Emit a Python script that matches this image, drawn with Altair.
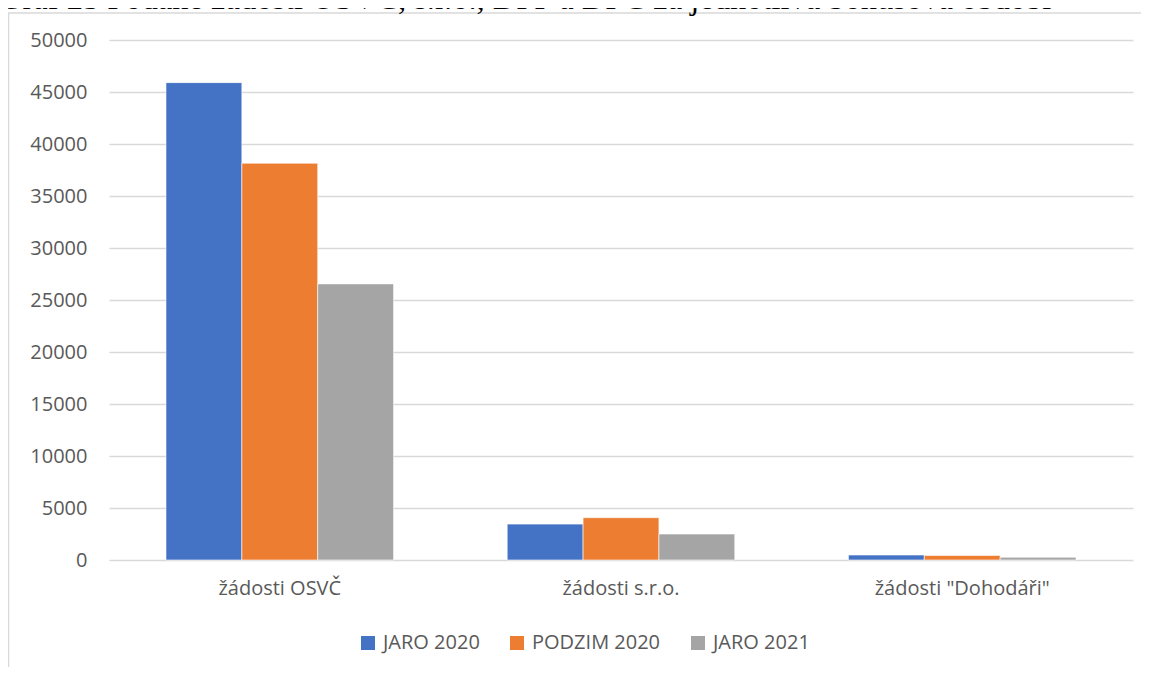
import altair as alt
import pandas as pd

categories = ["žádosti OSVČ", "žádosti s.r.o.", "žádosti \"Dohodáři\""]
periods = ["JARO 2020", "PODZIM 2020", "JARO 2021"]
jaro_2020 = [45900, 3450, 480]
podzim_2020 = [38150, 4070, 430]
jaro_2021 = [26550, 2500, 260]
colors = ["#4472C4", "#ED7D31", "#A5A5A5"]
title_text = "Graf 25 Podané žádosti OSVČ, s.r.o., DPP a DPČ za jednotlivá bonusová období"

rows = []
for series, vals in zip(periods, [jaro_2020, podzim_2020, jaro_2021]):
    for c, v in zip(categories, vals):
        rows.append({"kategorie": c, "obdobi": series, "hodnota": v})
df = pd.DataFrame(rows)

FONT = "Open Sans"
LABEL = "#595959"
FS = 20

bars = alt.Chart(df).mark_bar(stroke="white", strokeWidth=0.6).encode(
    x=alt.X("kategorie:N", sort=categories, title=None,
            scale=alt.Scale(paddingInner=0.333, paddingOuter=0.167),
            axis=alt.Axis(labelAngle=0, labelFont=FONT, labelFontSize=FS,
                          labelColor=LABEL, labelPadding=18, ticks=False,
                          domain=False, grid=False)),
    xOffset=alt.XOffset("obdobi:N", sort=periods, scale=alt.Scale(paddingInner=0, paddingOuter=0)),
    y=alt.Y("hodnota:Q", title=None,
            scale=alt.Scale(domain=[0, 50000]),
            axis=alt.Axis(values=list(range(0, 50001, 5000)), labelFont=FONT,
                          labelFontSize=FS, labelColor=LABEL, labelPadding=22,
                          ticks=False, domain=False, gridColor="#D9D9D9",
                          gridWidth=1.3, format="d")),
    color=alt.Color("obdobi:N", sort=periods,
                    scale=alt.Scale(domain=periods, range=colors),
                    legend=alt.Legend(title=None, orient="none", direction="horizontal",
                                      legendX=249, legendY=593,
                                      symbolType="square", symbolSize=196,
                                      symbolStrokeWidth=0, labelFont=FONT,
                                      labelFontSize=FS, labelColor=LABEL,
                                      labelOffset=5, columnPadding=27)),
)

one = pd.DataFrame({"a": [0]})
frame_top = alt.Chart(one).mark_rule(stroke="#D9D9D9", strokeWidth=1.5).encode(
    x=alt.value(-101), x2=alt.value(1040), y=alt.value(-27)
)
frame_left = alt.Chart(one).mark_rule(stroke="#D9D9D9", strokeWidth=1.5).encode(
    x=alt.value(-100.5), y=alt.value(-27), y2=alt.value(640)
)
title = alt.Chart(one).mark_text(align="left", baseline="alphabetic",
                                 font="Liberation Serif", fontSize=32.5,
                                 color="#000000").encode(
    x=alt.value(-110), y=alt.value(-31.5), text=alt.value(title_text)
)

chart = alt.layer(frame_top, frame_left, bars, title).properties(
    width=1024, height=520,
    autosize=alt.AutoSizeParams(type="none"),
    padding={"left": 101, "top": 32, "right": 8, "bottom": 107},
    background="white",
).configure_view(stroke=None)

chart.save("out.html", embed_options={"renderer": "svg", "actions": False})
